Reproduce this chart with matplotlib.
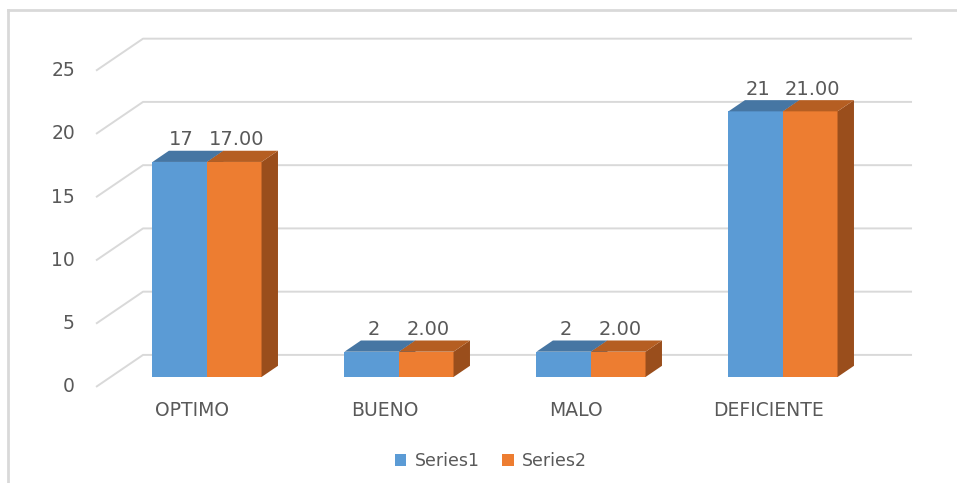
import matplotlib
matplotlib.use("Agg")
import matplotlib.pyplot as plt
from matplotlib.lines import Line2D
from matplotlib.patches import Patch, Polygon

CATEGORIES = ["OPTIMO", "BUENO", "MALO", "DEFICIENTE"]
SERIES1 = [17, 2, 2, 21]
SERIES2 = [17.00, 2.00, 2.00, 21.00]
SERIES_NAMES = ["Series1", "Series2"]
Y_TICKS = [0, 5, 10, 15, 20, 25]

FRONT_COLORS = ["#5B9BD5", "#ED7D31"]
TOP_COLORS = ["#4676A3", "#B55E22"]
SIDE_COLORS = ["#3E6A93", "#9A4E1C"]
GRID = "#D9D9D9"
TEXT = "#595959"

plt.rcParams["font.family"] = ["DejaVu Sans"]

# oblique projection (x in category units, y in value units)
BAR_W = 0.284
DEPTH_X, DEPTH_Y = 0.2448, 2.53
FRONT_FRAC, BACK_FRAC = 0.31, 0.66
bdx = (BACK_FRAC - FRONT_FRAC) * DEPTH_X
bdy = (BACK_FRAC - FRONT_FRAC) * DEPTH_Y
fdx, fdy = -FRONT_FRAC * DEPTH_X, -FRONT_FRAC * DEPTH_Y
wall_left, wall_right = -0.578, 3.672

fig = plt.figure(figsize=(9.57, 4.83), dpi=100)
ax = fig.add_axes([0, 0, 1, 1])
ax.set_xlim(-207 / 192, (957 - 207) / 192)
ax.set_ylim(-106 / 12.65, 377 / 12.65)
ax.axis("off")

# gridlines: front diagonal + back wall line
for v in Y_TICKS:
    x0, y0 = wall_left, v + fdy
    x1, y1 = x0 + DEPTH_X, y0 + DEPTH_Y
    ax.plot([x0, x1, wall_right], [y0, y1, y1], color=GRID, lw=1.4, zorder=1,
            solid_capstyle="butt")
    ax.text(x0 - 0.11, y0, str(v), ha="right", va="center", fontsize=13.5, color=TEXT)

z = 3
for s, vals in enumerate([SERIES1, SERIES2]):
    for i, v in enumerate(vals):
        left = i - BAR_W + s * BAR_W
        right = left + BAR_W
        ax.bar(left, v, width=BAR_W, align="edge", color=FRONT_COLORS[s],
               linewidth=0, zorder=z)
        side = [(right, 0), (right, v), (right + bdx, v + bdy), (right + bdx, bdy)]
        top = [(left, v), (right, v), (right + bdx, v + bdy), (left + bdx, v + bdy)]
        ax.add_patch(Polygon(side, closed=True, color=SIDE_COLORS[s], lw=0, zorder=z))
        ax.add_patch(Polygon(top, closed=True, color=TOP_COLORS[s], lw=0, zorder=z))
        label = f"{v:.0f}" if s == 0 else f"{v:.2f}"
        ax.text(left + BAR_W / 2 + 0.01, v + 1.75, label, ha="center", va="center",
                fontsize=14, color=TEXT, zorder=5)
    z += 1

for i, name in enumerate(CATEGORIES):
    ax.text(i + fdx, -2.61, name, ha="center", va="center", fontsize=13.5, color=TEXT)

handles = [Patch(facecolor=c, edgecolor="none") for c in FRONT_COLORS]
fig.legend(handles, SERIES_NAMES, loc="center", bbox_to_anchor=(491 / 957, 1 - 461 / 483),
           ncol=2, frameon=False, fontsize=12.5, handlelength=0.65, handleheight=0.65,
           handletextpad=0.5, columnspacing=1.3, labelcolor=TEXT)

# chart area border (left and top edges visible)
fig.add_artist(Line2D([8 / 957, 8 / 957], [0, 1 - 10 / 483], color=GRID, lw=2))
fig.add_artist(Line2D([8 / 957, 1], [1 - 10 / 483, 1 - 10 / 483], color=GRID, lw=2))

fig.savefig("out.png", dpi=100, facecolor="white")
